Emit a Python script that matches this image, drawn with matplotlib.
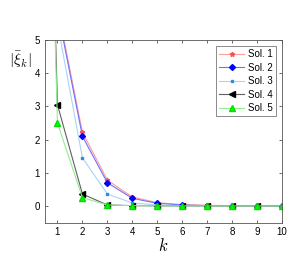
import matplotlib
matplotlib.use("Agg")
import matplotlib.pyplot as plt

plt.rcParams['font.family'] = ['Liberation Sans', 'DejaVu Sans']
plt.rcParams['mathtext.fontset'] = 'cm'

k = [0, 1, 2, 3, 4, 5, 6, 7, 8, 9, 10]
sol1 = [30.0, 6.0, 2.22, 0.78, 0.27, 0.10, 0.04, 0.02, 0.01, 0.005, 0.003]
sol2 = [30.0, 5.9, 2.10, 0.70, 0.23, 0.08, 0.03, 0.012, 0.006, 0.003, 0.002]
sol3 = [30.0, 5.5, 1.45, 0.36, 0.09, 0.03, 0.01, 0.005, 0.002, 0.001, 0.001]
sol4 = [30.0, 3.05, 0.36, 0.03, 0.01, 0.004, 0.002, 0.001, 0.0, 0.0, 0.0]
sol5 = [30.0, 2.50, 0.25, 0.03, 0.01, 0.004, 0.002, 0.001, 0.0, 0.0, 0.0]
labels = ['Sol. 1', 'Sol. 2', 'Sol. 3', 'Sol. 4', 'Sol. 5']

fig = plt.figure(figsize=(3.06, 2.64), dpi=100)
ax = fig.add_axes([0.147, 0.157, 0.775, 0.691])

ax.plot(k, sol1, color='#ff9a9a', lw=0.8, marker='*', ms=3.5, mfc='#ff5050', mec='#ff5050', label=labels[0])
ax.plot(k, sol2, color='#7070ff', lw=0.8, marker='D', ms=3.0, mfc='#0000ff', mec='#0000ff', label=labels[1])
ax.plot(k, sol3, color='#a8d4f4', lw=0.8, marker='s', ms=2.0, mfc='#2a8fd8', mec='#2a8fd8', label=labels[2])
ax.plot(k, sol4, color='#606060', lw=0.8, marker='<', ms=4.0, mfc='#000000', mec='#000000', label=labels[3])
ax.plot(k, sol5, color='#90ee90', lw=0.8, marker='^', ms=4.0, mfc='#00ff00', mec='#00dd00', label=labels[4])

ax.set_xlim(0.5, 10)
ax.set_ylim(-0.5, 5)
ax.set_xticks(range(1, 11))
ax.set_yticks(range(0, 6))
ax.tick_params(direction='in', top=True, right=True, labelsize=7, length=2.5, width=0.5, colors='#333333', labelcolor='black')
for s in ax.spines.values():
    s.set_linewidth(0.6)
    s.set_color('#555555')

ax.set_xlabel('$k$', fontsize=12, labelpad=0)
ax.text(-0.105, 0.89, r'$|\bar{\xi}_k|$', transform=ax.transAxes, fontsize=11, ha='center', va='center')

leg = ax.legend(loc='upper right', fontsize=7, frameon=True, fancybox=False, handlelength=2.6,
                borderpad=0.35, labelspacing=0.35, handletextpad=0.4, borderaxespad=0.6)
leg.get_frame().set_edgecolor('#555555')
leg.get_frame().set_linewidth(0.6)

fig.savefig('out.png', dpi=100)
